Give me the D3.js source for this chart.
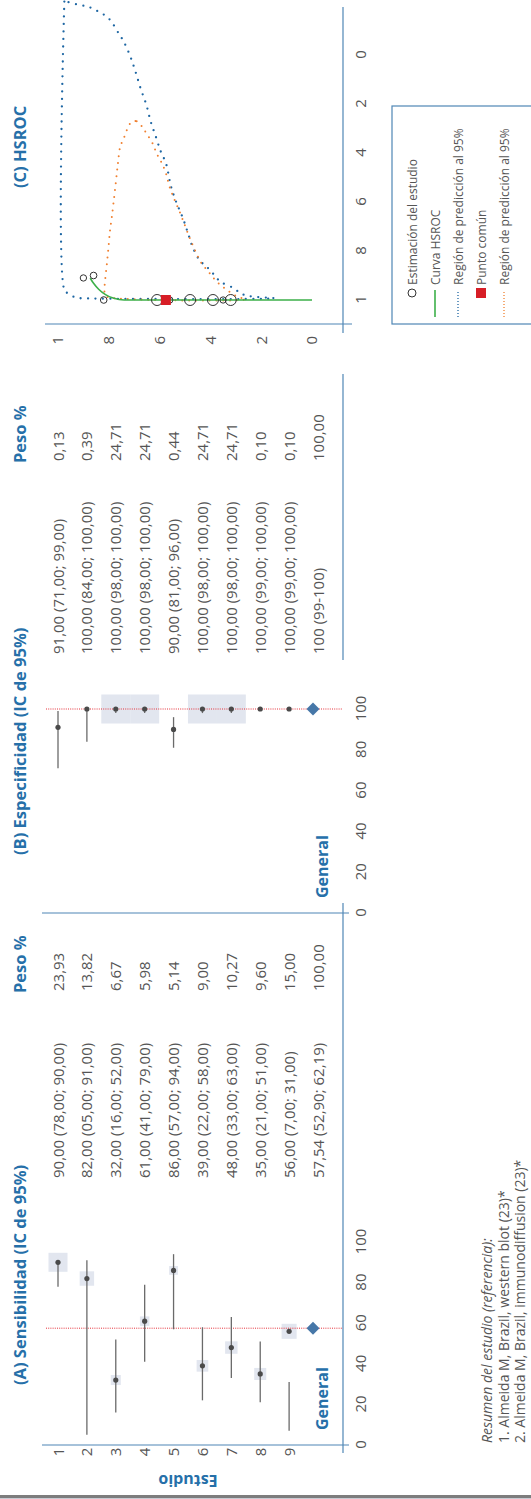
<!DOCTYPE html>
<html>
<head>
<meta charset="utf-8">
<script src="https://cdn.jsdelivr.net/npm/d3@7"></script>
<style>
  html, body { margin: 0; padding: 0; background: #ffffff; }
  svg { display: block; }
  text { font-family: "Open Sans", "Noto Sans", sans-serif; }
</style>
</head>
<body>
<svg id="chart" width="531" height="1499"></svg>
<script>
// ---- Study rows ----
const studies = ["1", "2", "3", "4", "5", "6", "7", "8", "9"];
const overallLabel = "General";

// ---- (A) Sensitivity, as printed (IC 95%) ----
const sensEst    = ["90,00", "82,00", "32,00", "61,00", "86,00", "39,00", "48,00", "35,00", "56,00"];
const sensLow    = ["78,00", "05,00", "16,00", "41,00", "57,00", "22,00", "33,00", "21,00", "7,00"];
const sensHigh   = ["90,00", "91,00", "52,00", "79,00", "94,00", "58,00", "63,00", "51,00", "31,00"];
const sensWeight = ["23,93", "13,82", "6,67", "5,98", "5,14", "9,00", "10,27", "9,60", "15,00"];
const sensOverall = ["57,54", "52,90", "62,19"];
const sensOverallWeight = "100,00";

// ---- (B) Specificity, as printed (IC 95%) ----
const specEst    = ["91,00", "100,00", "100,00", "100,00", "90,00", "100,00", "100,00", "100,00", "100,00"];
const specLow    = ["71,00", "84,00", "98,00", "98,00", "81,00", "98,00", "98,00", "99,00", "99,00"];
const specHigh   = ["99,00", "100,00", "100,00", "100,00", "96,00", "100,00", "100,00", "100,00", "100,00"];
const specWeight = ["0,13", "0,39", "24,71", "24,71", "0,44", "24,71", "24,71", "0,10", "0,10"];
const specOverall = ["100", "99", "100"];
const specOverallWeight = "100,00";

// ---- Axis ticks ----
const forestTicks = [0, 20, 40, 60, 80, 100];
const rocTicks = [1, 0.8, 0.6, 0.4, 0.2, 0];
const rocTickLabels = ["1", "8", "6", "4", "2", "0"];

// ---- (C) HSROC curve (specificity, sensitivity) ----
const hsrocSpec = [0.911, 0.932, 0.956, 0.978, 0.993, 1.0, 1.0];
const hsrocSens = [0.873, 0.860, 0.840, 0.813, 0.780, 0.740, 0.0];

// 95% prediction region (outer)
const predSpec = [-0.218, 0.959, 0.973, 0.991, 0.993, 0.993, 0.984, 0.973, 0.952, 0.925, 0.894, 0.864, 0.840,
                  0.789, 0.728, 0.667, 0.599, 0.537, 0.442, 0.395, 0.333, 0.272, 0.204, 0.136, 0.068, 0.007,
                  -0.054, -0.088, -0.150, -0.177, -0.197, -0.204, -0.218];
const predSens = [0.975, 0.975, 0.961, 0.928, 0.902, 0.148, 0.248, 0.281, 0.308, 0.361, 0.388, 0.415, 0.441,
                  0.468, 0.488, 0.508, 0.535, 0.555, 0.575, 0.595, 0.615, 0.635, 0.652, 0.675, 0.695, 0.715,
                  0.741, 0.761, 0.801, 0.841, 0.881, 0.915, 0.968];

// 95% region around the summary point (inner)
const confSpec = [0.269, 0.279, 0.340, 0.374, 0.442, 0.517, 0.599, 0.660, 0.714, 0.782, 0.857, 0.925, 0.966,
                  0.986, 0.993, 0.997, 0.986, 0.959, 0.925, 0.884, 0.850, 0.796, 0.748, 0.694, 0.640, 0.592,
                  0.537, 0.483, 0.442, 0.401, 0.360, 0.320, 0.290, 0.272, 0.269];
const confSens = [0.695, 0.715, 0.741, 0.755, 0.764, 0.772, 0.781, 0.788, 0.795, 0.801, 0.808, 0.815, 0.817,
                  0.808, 0.775, 0.261, 0.295, 0.335, 0.375, 0.408, 0.435, 0.461, 0.481, 0.501, 0.521, 0.541,
                  0.561, 0.575, 0.591, 0.612, 0.628, 0.652, 0.671, 0.688, 0.695];

const legendItems = ["Estimación del estudio", "Curva HSROC", "Región de predicción al 95%",
                     "Punto común", "Región de predicción al 95%"];
const notes = ["Resumen del estudio (referencia):",
               "1. Almeida M, Brazil, western blot (23)*",
               "2. Almeida M, Brazil, immunodiffusion (23)*"];

// ---- helpers & styles ----
const num = s => +s.replace(",", ".");
const BLUE = "#2670a9", GREY_TXT = "#555555", AXIS = "#4f86b5";
const FONT = "'Open Sans', 'Noto Sans', sans-serif";

// The figure is laid out as a 1499 x 531 landscape page, turned a quarter turn.
const PAGE_W = 1499;
const svg = d3.select("#chart");
const root = svg.append("g").attr("transform", `translate(0,${PAGE_W}) rotate(-90)`);

// page edge rule
root.append("rect").attr("x", 0).attr("y", 0).attr("width", 1).attr("height", 531).attr("fill", "#c9cbd3");
root.append("rect").attr("x", 1).attr("y", 0).attr("width", 3).attr("height", 531).attr("fill", "#7d7d7d");

const rowY = d3.scalePoint().domain([...studies, overallLabel]).range([58, 318]);
const AXIS_Y = 343;

function header(x, txt) {
  root.append("text").attr("x", x).attr("y", 26).text(txt)
    .attr("font-size", 16.5).attr("font-weight", 700).attr("fill", BLUE).attr("font-family", FONT);
}

function forestPanel(p) {
  const g = root.append("g");
  const x = d3.scaleLinear([0, 100], [p.x0, p.x100]);
  const est = p.est.map(num), lo = p.low.map(num), hi = p.high.map(num), w = p.weight.map(num);
  const overall = num(p.overall[0]);
  const side = d3.scaleSqrt([0, d3.max(w)], [0, p.maxBox]);
  const idx = d3.range(studies.length);

  // weight boxes
  g.selectAll("rect.wbox").data(idx).join("rect").attr("class", "wbox")
    .attr("x", i => x(est[i]) - side(w[i]) / 2)
    .attr("y", i => rowY(studies[i]) - side(w[i]) / 2)
    .attr("width", i => side(w[i])).attr("height", i => side(w[i]))
    .attr("fill", "#e2e6ef");

  // pooled estimate reference line
  g.append("line").attr("x1", x(overall)).attr("x2", x(overall)).attr("y1", 46).attr("y2", 342)
    .attr("stroke", "#e5313a").attr("stroke-width", 1).attr("stroke-dasharray", "1 1.2");

  // confidence intervals
  g.selectAll("line.ci").data(idx).join("line").attr("class", "ci")
    .attr("x1", i => x(lo[i])).attr("x2", i => x(hi[i]))
    .attr("y1", i => rowY(studies[i])).attr("y2", i => rowY(studies[i]))
    .attr("stroke", "#6a6a6a").attr("stroke-width", 1.3);

  // point estimates
  g.selectAll("circle.pt").data(idx).join("circle").attr("class", "pt")
    .attr("cx", i => x(est[i])).attr("cy", i => rowY(studies[i])).attr("r", 2.6)
    .attr("fill", "#4a4a4a");

  // pooled diamond
  const cx = x(overall), cy = rowY(overallLabel) - 5;
  g.append("path")
    .attr("d", `M${cx - 6.5},${cy} L${cx},${cy - 6.5} L${cx + 6.5},${cy} L${cx},${cy + 6.5} Z`)
    .attr("fill", "#4677a8");

  // axis labels
  const ax = g.append("g").attr("transform", `translate(0,${AXIS_Y})`)
    .call(d3.axisBottom(x).tickValues(forestTicks).tickSize(0).tickPadding(12))
    .attr("font-size", 15).attr("font-family", FONT).attr("color", GREY_TXT);
  ax.select(".domain").remove();

  // axis rules
  g.append("line").attr("x1", p.x0).attr("x2", p.x0).attr("y1", 42).attr("y2", 349)
    .attr("stroke", AXIS).attr("stroke-width", 1.2);
  p.baseSegments.forEach(s => {
    g.append("line").attr("x1", s[0]).attr("x2", s[1]).attr("y1", AXIS_Y).attr("y2", AXIS_Y)
      .attr("stroke", AXIS).attr("stroke-width", 1.2);
  });

  // overall label
  g.append("text").attr("x", p.x0 + 15).attr("y", rowY(overallLabel) + 10).text(overallLabel)
    .attr("font-size", 16).attr("font-weight", 700).attr("fill", BLUE).attr("font-family", FONT);

  // estimate and weight columns
  const rowsTxt = idx.map(i => `${p.est[i]} (${p.low[i]}; ${p.high[i]})`);
  rowsTxt.push(p.overallText);
  const wTxt = [...p.weight, p.overallWeight];
  const rowsAll = [...studies, overallLabel];
  g.selectAll("text.est").data(rowsTxt).join("text").attr("class", "est")
    .attr("x", p.estX).attr("y", (d, i) => rowY(rowsAll[i]) + 5.5).text(d => d)
    .attr("font-size", 15).attr("fill", GREY_TXT).attr("font-family", FONT);
  g.selectAll("text.wt").data(wTxt).join("text").attr("class", "wt")
    .attr("x", p.wX).attr("y", (d, i) => rowY(rowsAll[i]) + 5.5).text(d => d)
    .attr("font-size", 15).attr("fill", GREY_TXT).attr("font-family", FONT);

  header(p.headX, p.title);
  header(p.wX - 2, "Peso %");
}

// Study numbers and y title (panel A only)
root.selectAll("text.study").data(studies).join("text").attr("class", "study")
  .attr("x", 47).attr("y", d => rowY(d) + 5.5).attr("text-anchor", "middle").text(d => d)
  .attr("font-size", 15).attr("fill", GREY_TXT).attr("font-family", FONT);
root.append("text").attr("transform", "translate(24,188) rotate(-90)")
  .attr("text-anchor", "middle").text("Estudio")
  .attr("font-size", 16).attr("font-weight", 700).attr("fill", BLUE).attr("font-family", FONT);

forestPanel({
  title: "(A) Sensibilidad (IC de 95%)", headX: 114,
  x0: 54, x100: 257, maxBox: 19,
  est: sensEst, low: sensLow, high: sensHigh, weight: sensWeight,
  overall: sensOverall,
  overallText: `${sensOverall[0]} (${sensOverall[1]}; ${sensOverall[2]})`,
  overallWeight: sensOverallWeight,
  estX: 321, wX: 508,
  baseSegments: [[46, 596]]
});

forestPanel({
  title: "(B) Especificidad (IC de 95%)", headX: 644,
  x0: 586, x100: 790, maxBox: 29,
  est: specEst, low: specLow, high: specHigh, weight: specWeight,
  overall: specOverall,
  overallText: `${specOverall[0]} (${specOverall[1]}-${specOverall[2]})`,
  overallWeight: specOverallWeight,
  estX: 845, wX: 1038,
  baseSegments: [[839, 1125]]
});

// ---- (C) HSROC ----
header(1311, "(C) HSROC");
const xC = d3.scaleLinear([1, 0], [1199, 1444]);
const yC = d3.scaleLinear([1, 0], [58, 312]);
const gC = root.append("g");

// axes rules
gC.append("line").attr("x1", 1175).attr("x2", 1175).attr("y1", 45).attr("y2", 352)
  .attr("stroke", AXIS).attr("stroke-width", 1.2);
gC.append("line").attr("x1", 1166).attr("x2", 1492).attr("y1", AXIS_Y).attr("y2", AXIS_Y)
  .attr("stroke", AXIS).attr("stroke-width", 1.2);

const axC = gC.append("g").attr("transform", `translate(0,${AXIS_Y})`)
  .call(d3.axisBottom(xC).tickValues(rocTicks).tickSize(0).tickPadding(12)
    .tickFormat((d, i) => rocTickLabels[i]))
  .attr("font-size", 15).attr("font-family", FONT).attr("color", GREY_TXT);
axC.select(".domain").remove();
const ayC = gC.append("g").attr("transform", "translate(1166,0)")
  .call(d3.axisLeft(yC).tickValues(rocTicks).tickSize(0).tickPadding(3)
    .tickFormat((d, i) => rocTickLabels[i]))
  .attr("font-size", 15).attr("font-family", FONT).attr("color", GREY_TXT);
ayC.select(".domain").remove();

const lineC = d3.line().x(d => xC(d[0])).y(d => yC(d[1]));
gC.append("path").datum(d3.zip(predSpec, predSens))
  .attr("d", lineC.curve(d3.curveCatmullRom.alpha(0.5)))
  .attr("fill", "none").attr("stroke", "#1d66a3").attr("stroke-width", 2.3)
  .attr("stroke-linecap", "round").attr("stroke-dasharray", "0 7.5");
gC.append("path").datum(d3.zip(confSpec, confSens))
  .attr("d", lineC.curve(d3.curveCatmullRom.alpha(0.5)))
  .attr("fill", "none").attr("stroke", "#f08030").attr("stroke-width", 2)
  .attr("stroke-linecap", "round").attr("stroke-dasharray", "0 6.8");
gC.append("path").datum(d3.zip(hsrocSpec, hsrocSens))
  .attr("d", lineC.curve(d3.curveMonotoneY))
  .attr("fill", "none").attr("stroke", "#3db04a").attr("stroke-width", 1.6);

// study estimates
const spW = specWeight.map(num);
const rC = d3.scaleSqrt([0, d3.max(spW)], [3, 5.5]);
gC.selectAll("circle.study").data(d3.range(studies.length)).join("circle").attr("class", "study")
  .attr("cx", i => xC(num(specEst[i]) / 100)).attr("cy", i => yC(num(sensEst[i]) / 100))
  .attr("r", i => rC(spW[i]))
  .attr("fill", "none").attr("stroke", "#333333").attr("stroke-width", 1);

// summary point
gC.append("rect")
  .attr("x", xC(num(specOverall[0]) / 100) - 5).attr("y", yC(num(sensOverall[0]) / 100) - 5)
  .attr("width", 10).attr("height", 10).attr("fill", "#d71e26");

// legend
const gL = root.append("g");
gL.append("rect").attr("x", 1175).attr("y", 392).attr("width", 218).attr("height", 160)
  .attr("fill", "none").attr("stroke", AXIS).attr("stroke-width", 1.2);
const legY = i => 412 + 23 * i;
gL.append("circle").attr("cx", 1206).attr("cy", legY(0)).attr("r", 4)
  .attr("fill", "none").attr("stroke", "#333").attr("stroke-width", 1);
gL.append("line").attr("x1", 1182).attr("x2", 1209).attr("y1", legY(1)).attr("y2", legY(1))
  .attr("stroke", "#3db04a").attr("stroke-width", 1.6);
gL.append("line").attr("x1", 1182).attr("x2", 1209).attr("y1", legY(2)).attr("y2", legY(2))
  .attr("stroke", "#1d66a3").attr("stroke-width", 1.3).attr("stroke-dasharray", "1 2");
gL.append("rect").attr("x", 1201).attr("y", legY(3) - 5).attr("width", 10).attr("height", 10)
  .attr("fill", "#d71e26");
gL.append("line").attr("x1", 1182).attr("x2", 1209).attr("y1", legY(4)).attr("y2", legY(4))
  .attr("stroke", "#f08030").attr("stroke-width", 1.3).attr("stroke-dasharray", "1 2");
gL.selectAll("text").data(legendItems).join("text")
  .attr("x", 1214).attr("y", (d, i) => legY(i) + 4.5).text(d => d)
  .attr("font-size", 12).attr("fill", GREY_TXT).attr("font-family", FONT);

// notes
root.selectAll("text.note").data(notes).join("text").attr("class", "note")
  .attr("x", 56).attr("y", (d, i) => 492 + 16.5 * i).text(d => d)
  .attr("font-size", 14).attr("fill", GREY_TXT).attr("font-family", FONT)
  .attr("font-style", (d, i) => i === 0 ? "italic" : "normal");
</script>
</body>
</html>
